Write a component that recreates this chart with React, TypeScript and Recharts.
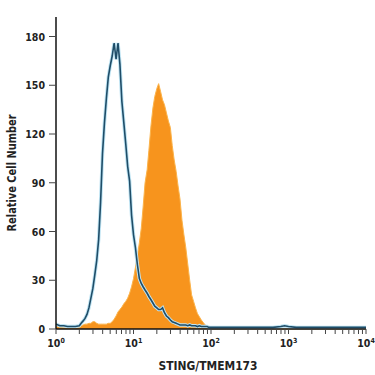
import { ComposedChart, Area, Line, XAxis, YAxis } from "recharts";

// fluorescence intensity (log channel centres)
const fluor = [
  1.0, 1.12, 1.26, 1.41, 1.58, 1.78,
  2.0, 2.11, 2.24, 2.37, 2.51, 2.66, 2.82, 2.99, 3.16, 3.35,
  3.55, 3.76, 3.98, 4.22, 4.47, 4.73, 5.01, 5.31, 5.62, 5.96,
  6.31, 6.68, 7.08, 7.5, 7.94, 8.41, 8.91, 9.44, 10.0, 10.6,
  11.2, 11.9, 12.6, 13.3, 14.1, 15.0, 15.8, 16.8, 17.8, 18.8,
  20.0, 21.1, 22.4, 23.7, 25.1, 26.6, 28.2, 29.9, 31.6, 33.5,
  35.5, 37.6, 39.8, 42.2, 44.7, 47.3, 50.1, 53.1, 56.2, 59.6,
  63.1, 66.8, 70.8, 75.0, 79.4, 84.1, 89.1, 94.4, 100,
  126, 158, 200, 251, 316, 398, 501, 631, 794, 891,
  1000, 1259, 1585, 2000, 2512, 3162, 3981, 5012, 6310, 7943, 10000,
];

// isotype control (open histogram)
const isotype = [
  3, 2, 2, 1.5, 1.5, 1.5,
  2, 3.5, 5, 6.5, 9, 13, 19, 25, 33, 42,
  55, 78, 108, 127, 142, 155, 162, 168, 176, 166,
  176, 163, 140, 127, 114, 100, 91, 70, 58, 50,
  40, 31, 28, 26, 24, 22, 20, 18, 16, 14,
  13, 12, 12, 13, 10, 8, 7, 5.5, 4.5, 4,
  3.5, 3, 2.5, 2.5, 2.5, 2.5, 2, 2.5, 2, 2,
  2, 1.5, 2, 1.5, 1.5, 1.5, 1.5, 1, 1,
  1, 1, 1, 1, 1, 1, 1, 1, 1.5, 2,
  1.5, 1, 1, 1, 1, 1, 1, 1, 1, 1, 1,
];

// anti-STING/TMEM173 stained (filled histogram)
const sting = [
  4, 1.5, 1, 1, 1, 1,
  1, 2, 2.5, 3, 3, 3.5, 3.5, 4.5, 4.5, 3.5,
  3, 3, 3, 3, 3, 3.5, 3.5, 4.5, 6, 8,
  10.5, 12, 13.5, 15.5, 17, 19, 22, 26, 31, 38,
  45, 53, 62, 75, 90, 98, 110, 125, 136, 143,
  148, 151, 146, 141, 138, 133, 128, 124, 113, 104,
  97, 88, 80, 67, 58, 50, 40, 30, 21, 17,
  13, 9.5, 7.5, 5.5, 4, 2.5, 1.5, 0.5, 0,
  0, 0, 0, 0, 0, 0, 0, 0, 0, 0,
  0, 0, 0, 0, 0, 0, 0, 0, 0, 0, 0,
];

const xTicks = [
  1, 2, 3, 4, 5, 6, 7, 8, 9,
  10, 20, 30, 40, 50, 60, 70, 80, 90,
  100, 200, 300, 400, 500, 600, 700, 800, 900,
  1000, 2000, 3000, 4000, 5000, 6000, 7000, 8000, 9000,
  10000,
];
const yTicks = [0, 30, 60, 90, 120, 150, 180];

const data = fluor.map((x, i) => ({ x, isotype: isotype[i], sting: sting[i] }));

const FONT = "'DejaVu Sans Condensed', 'Liberation Sans', sans-serif";

const XTick = ({ x, y, payload }: any) => {
  const e = Math.round(Math.log10(payload.value));
  if (Math.pow(10, e) !== payload.value) return <g />;
  return (
    <text x={x} y={y + 11} textAnchor="middle" fontFamily={FONT} fontWeight="bold" fontSize={10.5} fill="#222">
      <tspan>10</tspan>
      <tspan dy={-4} fontSize={7}>{e}</tspan>
    </text>
  );
};

const YTick = ({ x, y, payload }: any) => (
  <text x={x - 2} y={y + 4} textAnchor="end" fontFamily={FONT} fontWeight="bold" fontSize={10.5} fill="#222">
    {payload.value}
  </text>
);

export default function App() {
  return (
    <div style={{ position: "absolute", left: 0, top: 0, background: "#fff" }}>
      <ComposedChart width={375} height={375} data={data} margin={{ top: 17, right: 9, bottom: 0, left: 0 }}>
        <XAxis
          dataKey="x"
          type="number"
          scale="log"
          domain={[1, 10000]}
          ticks={xTicks}
          interval={0}
          allowDataOverflow
          height={46}
          tickSize={5}
          axisLine={{ stroke: "#111", strokeWidth: 1.5 }}
          tickLine={{ stroke: "#444" }}
          tick={<XTick />}
          label={{
            content: ({ viewBox }: any) => (
              <text x={viewBox.x + viewBox.width / 2 - 3} y={viewBox.y + 41} textAnchor="middle"
                textLength={99} lengthAdjust="spacingAndGlyphs"
                fontFamily={FONT} fontWeight="bold" fontSize={13} fill="#222">
                STING/TMEM173
              </text>
            ),
          }}
        />
        <YAxis
          type="number"
          domain={[0, 192]}
          ticks={yTicks}
          interval={0}
          width={56}
          tickSize={7}
          axisLine={{ stroke: "#111", strokeWidth: 1.5 }}
          tickLine={{ stroke: "#444" }}
          tick={<YTick />}
          label={{
            content: ({ viewBox }: any) => {
              const cx = 16;
              const cy = viewBox.y + viewBox.height / 2;
              return (
                <text x={cx} y={cy} transform={`rotate(-90 ${cx} ${cy})`} textAnchor="middle"
                  textLength={117} lengthAdjust="spacingAndGlyphs"
                  fontFamily={FONT} fontWeight="bold" fontSize={12} fill="#222">
                  Relative Cell Number
                </text>
              );
            },
          }}
        />
        <Area dataKey="sting" type="linear" fill="#f7941d" fillOpacity={1} stroke="#fbb34a" strokeWidth={1} isAnimationActive={false} />
        <Line dataKey="isotype" type="linear" stroke="#bfe4f3" strokeWidth={3.5} dot={false} isAnimationActive={false} />
        <Line dataKey="isotype" type="linear" stroke="#1f4d68" strokeWidth={1.6} dot={false} isAnimationActive={false} />
      </ComposedChart>
    </div>
  );
}
